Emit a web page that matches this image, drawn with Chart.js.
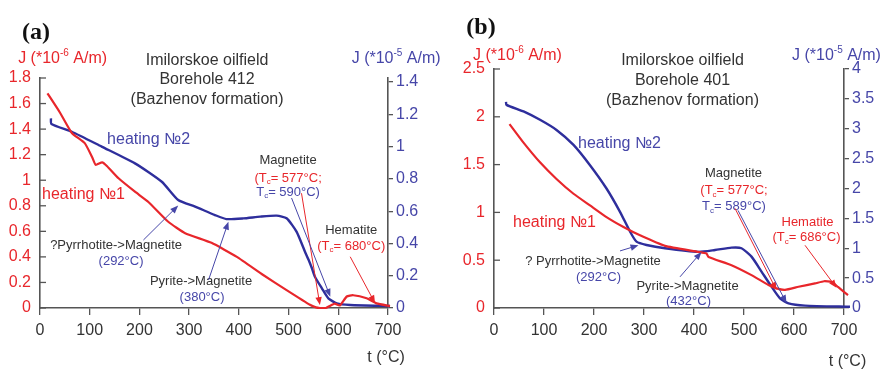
<!DOCTYPE html>
<html>
<head>
<meta charset="utf-8">
<script src="https://cdn.jsdelivr.net/npm/chart.js@4.4.0/dist/chart.umd.min.js"></script>
<style>
    body { margin: 0; background: #fff; width: 883px; height: 371px; overflow: hidden; position: relative; }
    .panel { position: absolute; top: 0; height: 371px; }
    #pa { left: 0; width: 441px; }
    #pb { left: 441px; width: 442px; }
</style>
</head>
<body>
<div class="panel" id="pa"><canvas id="chartA"></canvas></div>
<div class="panel" id="pb"><canvas id="chartB"></canvas></div>
<script>
// Data
// (a) Borehole 412
const aHeat1T = [15, 40, 64, 90, 105, 112, 125, 135, 158, 191, 218, 258, 292, 345, 396, 449, 496, 543, 555, 563, 575, 585, 593, 603, 617, 630, 657, 677, 704];
const aHeat1J = [1.68, 1.53, 1.37, 1.29, 1.18, 1.12, 1.14, 1.11, 1.015, 0.91, 0.83, 0.675, 0.585, 0.51, 0.40, 0.258, 0.14, 0.025, 0.005, 0, 0, 0.02, 0.035, 0.02, 0.09, 0.1, 0.076, 0.036, 0.015];
const aHeat2T = [22, 23, 64, 124, 191, 245, 278, 312, 352, 375, 409, 443, 476, 496, 516, 533, 540, 547, 553, 567, 580, 597, 624, 704];
const aHeat2J = [1.175, 1.14, 1.092, 1.0, 0.896, 0.782, 0.669, 0.628, 0.576, 0.551, 0.555, 0.566, 0.572, 0.556, 0.473, 0.349, 0.30, 0.246, 0.194, 0.122, 0.06, 0.029, 0.019, 0.012];

// (b) Borehole 401
const bHeat1T = [31, 59, 92, 125, 159, 192, 225, 259, 292, 342, 409, 425, 429, 475, 515, 549, 565, 582, 609, 642, 660, 675, 688, 708];
const bHeat1J = [1.924, 1.73, 1.524, 1.35, 1.195, 1.073, 0.951, 0.847, 0.76, 0.65, 0.587, 0.57, 0.534, 0.448, 0.344, 0.24, 0.205, 0.19, 0.222, 0.257, 0.28, 0.274, 0.22, 0.135];
const bHeat2T = [24, 25, 59, 92, 125, 159, 192, 225, 252, 272, 285, 305, 342, 409, 442, 475, 495, 515, 535, 555, 572, 589, 622, 712];
const bHeat2J = [3.45, 3.40, 3.29, 3.15, 2.98, 2.73, 2.39, 2.0, 1.61, 1.28, 1.11, 1.055, 1.0, 0.94, 0.97, 1.01, 1.0, 0.86, 0.61, 0.357, 0.162, 0.078, 0.04, 0.02];

// Tick labels
const xTicks = [0, 100, 200, 300, 400, 500, 600, 700];
const aLeftTicks = [0, 0.2, 0.4, 0.6, 0.8, 1, 1.2, 1.4, 1.6, 1.8];
const aRightTicks = [0, 0.2, 0.4, 0.6, 0.8, 1, 1.2, 1.4];
const bLeftTicks = [0, 0.5, 1, 1.5, 2, 2.5];
const bRightTicks = [0, 0.5, 1, 1.5, 2, 2.5, 3, 3.5, 4];

// Colours / fonts
const RED = '#e8262b';
const BLUE = '#2e2e9c';
const BLUE_TXT = '#4646a8';
const GRAY = '#333';
const AXIS = '#555';
const FAMILY = '"Liberation Sans", Arial, sans-serif';

function pts(xs, ys) {
    return xs.map((x, i) => ({ x: x, y: ys[i] }));
}

// Text with sub/superscripts
function drawRich(ctx, x, y, parts, size, align) {
    const small = Math.round(size * 0.62);
    const widths = parts.map(p => {
        ctx.font = (p[2] ? small : size) + 'px ' + FAMILY;
        return ctx.measureText(p[0]).width;
    });
    const total = widths.reduce((a, b) => a + b, 0);
    let cx = align === 'left' ? x : x - total / 2;
    parts.forEach((p, i) => {
        ctx.font = (p[2] ? small : size) + 'px ' + FAMILY;
        ctx.fillStyle = p[1];
        let dy = 0;
        if (p[2] === 'sup') dy = -size * 0.32;
        if (p[2] === 'sub') dy = size * 0.3;
        ctx.fillText(p[0], cx, y + dy);
        cx += widths[i];
    });
}

function drawArrow(ctx, x1, y1, x2, y2, color) {
    const ang = Math.atan2(y2 - y1, x2 - x1);
    const len = 8, half = 3.2;
    ctx.strokeStyle = color;
    ctx.fillStyle = color;
    ctx.lineWidth = 1;
    ctx.beginPath();
    ctx.moveTo(x1, y1);
    ctx.lineTo(x2 - Math.cos(ang) * len * 0.8, y2 - Math.sin(ang) * len * 0.8);
    ctx.stroke();
    ctx.beginPath();
    ctx.moveTo(x2, y2);
    ctx.lineTo(x2 - Math.cos(ang) * len - Math.sin(ang) * half, y2 - Math.sin(ang) * len + Math.cos(ang) * half);
    ctx.lineTo(x2 - Math.cos(ang) * len + Math.sin(ang) * half, y2 - Math.sin(ang) * len - Math.cos(ang) * half);
    ctx.closePath();
    ctx.fill();
}

// Annotations placed in data coords (t, left J)
function notesPlugin(notes, arrows) {
    return {
        id: 'notes',
        afterDraw(chart) {
            const ctx = chart.ctx;
            const xs = chart.scales.x, ys = chart.scales.yL;
            ctx.save();
            // inward ticks on left axis
            ctx.strokeStyle = AXIS;
            ctx.lineWidth = 1.3;
            ys.ticks.forEach(tk => {
                const py = ys.getPixelForValue(tk.value);
                ctx.beginPath();
                ctx.moveTo(chart.chartArea.left, py);
                ctx.lineTo(chart.chartArea.left + 6, py);
                ctx.stroke();
            });
            ctx.textBaseline = 'middle';
            ctx.textAlign = 'left';
            notes.forEach(n => {
                const px = xs.getPixelForValue(n.t), py = ys.getPixelForValue(n.j);
                if (n.font) {
                    ctx.font = n.font;
                    ctx.fillStyle = n.parts[0][1];
                    ctx.textAlign = 'center';
                    ctx.fillText(n.parts[0][0], px, py);
                    ctx.textAlign = 'left';
                } else {
                    drawRich(ctx, px, py, n.parts, n.size, n.align || 'center');
                }
            });
            arrows.forEach(a => {
                drawArrow(ctx,
                    xs.getPixelForValue(a.from[0]), ys.getPixelForValue(a.from[1]),
                    xs.getPixelForValue(a.to[0]), ys.getPixelForValue(a.to[1]), a.color);
            });
            ctx.restore();
        }
    };
}

function makePanel(id, p) {
    const ctx = document.getElementById(id).getContext('2d');
    const fmt = v => String(v);
    return new Chart(ctx, {
        type: 'line',
        data: {
            datasets: [{
                label: 'heating №1',
                data: pts(p.t1, p.j1),
                yAxisID: 'yL',
                borderColor: RED,
                borderWidth: 2.2,
                pointRadius: 0,
                tension: 0.15,
                clip: 10
            }, {
                label: 'heating №2',
                data: pts(p.t2, p.j2),
                yAxisID: 'yR',
                borderColor: BLUE,
                borderWidth: 2.4,
                pointRadius: 0,
                tension: 0.2,
                clip: 10
            }]
        },
        options: {
            responsive: true,
            maintainAspectRatio: false,
            animation: false,
            layout: { padding: { top: p.top, left: 0, right: 0, bottom: 0 } },
            plugins: { legend: { display: false }, tooltip: { enabled: false } },
            scales: {
                x: {
                    type: 'linear',
                    min: 0, max: 700,
                    afterBuildTicks: s => { s.ticks = xTicks.map(v => ({ value: v })); },
                    afterFit: s => { s.height = 63; },
                    grid: { drawOnChartArea: false, tickLength: 7, color: AXIS, lineWidth: 1.3 },
                    border: { color: AXIS, width: 1.6 },
                    ticks: { color: GRAY, font: { size: 16, family: FAMILY }, padding: 6, maxRotation: 0, callback: fmt }
                },
                yL: {
                    position: 'left',
                    min: 0, max: p.leftMax,
                    afterBuildTicks: s => { s.ticks = p.leftTicks.map(v => ({ value: v })); },
                    afterFit: s => { s.width = p.leftW; },
                    grid: { display: false, drawTicks: false, tickLength: 0 },
                    border: { color: AXIS, width: 1.6 },
                    ticks: { color: RED, font: { size: 16, family: FAMILY }, padding: 9, callback: fmt }
                },
                yR: {
                    position: 'right',
                    min: 0, max: p.rightMax,
                    afterBuildTicks: s => { s.ticks = p.rightTicks.map(v => ({ value: v })); },
                    afterFit: s => { s.width = p.rightW; },
                    grid: { drawOnChartArea: false, tickLength: 5, color: AXIS, lineWidth: 1.3 },
                    border: { color: AXIS, width: 1.6 },
                    ticks: { color: BLUE_TXT, font: { size: 16, family: FAMILY }, padding: 3, callback: fmt }
                }
            }
        },
        plugins: [notesPlugin(p.notes, p.arrows)]
    });
}

// Panel (a)
makePanel('chartA', {
    t1: aHeat1T, j1: aHeat1J, t2: aHeat2T, j2: aHeat2J,
    top: 78, leftW: 40, rightW: 53,
    leftMax: 1.8, rightMax: 1.425,
    leftTicks: aLeftTicks, rightTicks: aRightTicks,
    notes: [
        { t: -8, j: 2.15, font: 'bold 24px "Liberation Serif", serif', parts: [['(a)', '#111']] },
        { t: -44, j: 1.95, size: 16, align: 'left', parts: [['J (*10', RED], ['-6', RED, 'sup'], [' A/m)', RED]] },
        { t: 627, j: 1.95, size: 16, align: 'left', parts: [['J (*10', BLUE_TXT], ['-5', BLUE_TXT, 'sup'], [' A/m)', BLUE_TXT]] },
        { t: 336, j: 1.94, size: 16, parts: [['Imilorskoe oilfield', GRAY]] },
        { t: 336, j: 1.784, size: 16, parts: [['Borehole 412', GRAY]] },
        { t: 336, j: 1.628, size: 16, parts: [['(Bazhenov formation)', GRAY]] },
        { t: 135, j: 1.315, size: 16, align: 'left', parts: [['heating №2', BLUE_TXT]] },
        { t: 4, j: 0.884, size: 16, align: 'left', parts: [['heating №1', RED]] },
        { t: 499, j: 1.158, size: 13, parts: [['Magnetite', GRAY]] },
        { t: 499, j: 1.017, size: 13, parts: [['(T', RED], ['c', RED, 'sub'], ['= 577°C;', RED]] },
        { t: 499, j: 0.908, size: 13, parts: [['T', BLUE_TXT], ['c', BLUE_TXT, 'sub'], ['= 590°C)', BLUE_TXT]] },
        { t: 626, j: 0.61, size: 13, parts: [['Hematite', GRAY]] },
        { t: 626, j: 0.485, size: 13, parts: [['(T', RED], ['c', RED, 'sub'], ['= 680°C)', RED]] },
        { t: 153, j: 0.488, size: 13, parts: [['?Pyrrhotite->Magnetite', GRAY]] },
        { t: 163, j: 0.368, size: 13, parts: [['(292°C)', BLUE_TXT]] },
        { t: 324, j: 0.206, size: 13, parts: [['Pyrite->Magnetite', GRAY]] },
        { t: 326, j: 0.086, size: 13, parts: [['(380°C)', BLUE_TXT]] },
        { t: 696, j: -0.391, size: 16, parts: [['t (°C)', GRAY]] }
    ],
    arrows: [
        { from: [208, 0.532], to: [278, 0.802], color: BLUE_TXT },
        { from: [339, 0.219], to: [379, 0.675], color: BLUE_TXT },
        { from: [526, 0.898], to: [563, 0.023], color: RED },
        { from: [506, 0.861], to: [584, 0.088], color: BLUE_TXT },
        { from: [624, 0.401], to: [674, 0.037], color: RED }
    ]
});

// Panel (b)
makePanel('chartB', {
    t1: bHeat1T, j1: bHeat1J, t2: bHeat2T, j2: bHeat2J,
    top: 69, leftW: 53, rightW: 39,
    leftMax: 2.5, rightMax: 4,
    leftTicks: bLeftTicks, rightTicks: bRightTicks,
    notes: [
        { t: -26, j: 2.93, font: 'bold 24px "Liberation Serif", serif', parts: [['(b)', '#111']] },
        { t: -42, j: 2.64, size: 16, align: 'left', parts: [['J (*10', RED], ['-6', RED, 'sup'], [' A/m)', RED]] },
        { t: 596, j: 2.64, size: 16, align: 'left', parts: [['J (*10', BLUE_TXT], ['-5', BLUE_TXT, 'sup'], [' A/m)', BLUE_TXT]] },
        { t: 377, j: 2.583, size: 16, parts: [['Imilorskoe oilfield', GRAY]] },
        { t: 377, j: 2.375, size: 16, parts: [['Borehole 401', GRAY]] },
        { t: 377, j: 2.167, size: 16, parts: [['(Bazhenov formation)', GRAY]] },
        { t: 168, j: 1.719, size: 16, align: 'left', parts: [['heating №2', BLUE_TXT]] },
        { t: 38, j: 0.896, size: 16, align: 'left', parts: [['heating №1', RED]] },
        { t: 479, j: 1.406, size: 13, parts: [['Magnetite', GRAY]] },
        { t: 480, j: 1.229, size: 13, parts: [['(T', RED], ['c', RED, 'sub'], ['= 577°C;', RED]] },
        { t: 480, j: 1.0625, size: 13, parts: [['T', BLUE_TXT], ['c', BLUE_TXT, 'sub'], ['= 589°C)', BLUE_TXT]] },
        { t: 627, j: 0.899, size: 13, parts: [['Hematite', RED]] },
        { t: 625, j: 0.736, size: 13, parts: [['(T', RED], ['c', RED, 'sub'], ['= 686°C)', RED]] },
        { t: 198, j: 0.483, size: 13, parts: [['? Pyrrhotite->Magnetite', GRAY]] },
        { t: 209, j: 0.316, size: 13, parts: [['(292°C)', BLUE_TXT]] },
        { t: 387, j: 0.222, size: 13, parts: [['Pyrite->Magnetite', GRAY]] },
        { t: 389, j: 0.066, size: 13, parts: [['(432°C)', BLUE_TXT]] },
        { t: 707, j: -0.559, size: 16, parts: [['t (°C)', GRAY]] }
    ],
    arrows: [
        { from: [252, 0.597], to: [289, 0.656], color: BLUE_TXT },
        { from: [372, 0.326], to: [415, 0.586], color: BLUE_TXT },
        { from: [482, 1.042], to: [565, 0.1875], color: RED },
        { from: [488, 1.021], to: [585, 0.052], color: BLUE_TXT },
        { from: [622, 0.656], to: [685, 0.211], color: RED }
    ]
});
</script>
</body>
</html>
